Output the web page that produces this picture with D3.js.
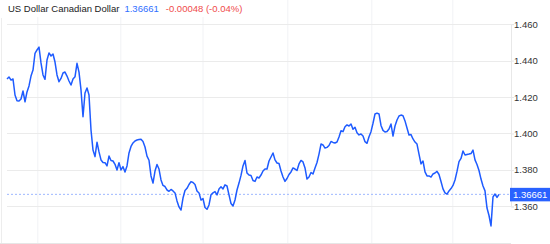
<!DOCTYPE html>
<html>
<head>
<meta charset="utf-8">
<script src="https://cdn.jsdelivr.net/npm/d3@7"></script>
<style>
  body { margin: 0; background: #fff; }
  svg { display: block; font-family: "Liberation Sans", Arial, sans-serif; }
</style>
</head>
<body>
<div id="chart"></div>
<script>
// USD/CAD closes, one per trading day
let closes = [
  1.4299, 1.4310, 1.4293, 1.4299, 1.4211, 1.4180, 1.4178, 1.4189, 1.4233, 1.4174,
  1.4228, 1.4261, 1.4315, 1.4348, 1.4439, 1.4458, 1.4474, 1.4387, 1.4321, 1.4297,
  1.4403, 1.4442, 1.4425, 1.4436, 1.4392, 1.4321, 1.4284, 1.4302, 1.4332, 1.4337,
  1.4315, 1.4288, 1.4266, 1.4299, 1.4311, 1.4385, 1.4337, 1.4239, 1.4092, 1.4222,
  1.4250, 1.4211, 1.4019, 1.3909, 1.3873, 1.3952, 1.3899, 1.3855, 1.3841, 1.3840,
  1.3822, 1.3876, 1.3852, 1.3849, 1.3831, 1.3800, 1.3840, 1.3800, 1.3818, 1.3789,
  1.3822, 1.3893, 1.3929, 1.3948, 1.3959, 1.3964, 1.3967, 1.3968, 1.3956, 1.3926,
  1.3876, 1.3853, 1.3767, 1.3728, 1.3794, 1.3830, 1.3805, 1.3745, 1.3715, 1.3709,
  1.3690, 1.3683, 1.3693, 1.3685, 1.3674, 1.3630, 1.3597, 1.3580, 1.3646, 1.3687,
  1.3699, 1.3720, 1.3736, 1.3731, 1.3720, 1.3685, 1.3674, 1.3635, 1.3643, 1.3594,
  1.3584, 1.3608, 1.3664, 1.3674, 1.3681, 1.3663, 1.3696, 1.3708, 1.3696, 1.3718,
  1.3712, 1.3663, 1.3616, 1.3602, 1.3635, 1.3690, 1.3728, 1.3770, 1.3822, 1.3852,
  1.3783, 1.3772, 1.3770, 1.3742, 1.3737, 1.3761, 1.3756, 1.3772, 1.3794, 1.3805,
  1.3805, 1.3849, 1.3871, 1.3893, 1.3855, 1.3838, 1.3835, 1.3794, 1.3761, 1.3737,
  1.3753, 1.3775, 1.3789, 1.3811, 1.3805, 1.3797, 1.3833, 1.3852, 1.3844, 1.3811,
  1.3750, 1.3761, 1.3786, 1.3778, 1.3811, 1.3841, 1.3887, 1.3942, 1.3937, 1.3920,
  1.3924, 1.3934, 1.3956, 1.3951, 1.3948, 1.3953, 1.3981, 1.4015, 1.4010, 1.4037,
  1.4047, 1.4041, 1.4052, 1.4023, 1.4034, 1.4004, 1.3992, 1.3997, 1.3986, 1.3955,
  1.3946, 1.3982, 1.4010, 1.4056, 1.4107, 1.4112, 1.4107, 1.4044, 1.4017, 1.4008,
  1.4011, 1.4025, 1.4052, 1.3986, 1.4041, 1.4074, 1.4096, 1.4101, 1.4097, 1.4069,
  1.4030, 1.3992, 1.3994, 1.3970, 1.3953, 1.3942, 1.3887, 1.3833, 1.3849, 1.3789,
  1.3767, 1.3767, 1.3761, 1.3778, 1.3783, 1.3792, 1.3775, 1.3737, 1.3696, 1.3674,
  1.3667, 1.3685, 1.3698, 1.3715, 1.3745, 1.3792, 1.3846, 1.3863, 1.3904, 1.3882,
  1.3885, 1.3887, 1.3890, 1.3909, 1.3855, 1.3830, 1.3797, 1.3750, 1.3712, 1.3685,
  1.3591, 1.3550, 1.3493, 1.3652, 1.3668, 1.3649, 1.36661
];

let priceTicks = [1.36, 1.38, 1.40, 1.42, 1.44, 1.46];
// vertical grid lines, in trading-day index
let gridDays = [15.4, 56.9, 98, 140.4, 182.4, 222.9];

let title = "US Dollar Canadian Dollar";
let lastPrice = 1.36661;
let change = "-0.00048 (-0.04%)";

let svgWidth = 550;
let svgHeight = 244;
let plotLeft = 7;
let plotRight = 511;

let svg = d3.select("#chart")
  .append("svg")
  .attr("width", svgWidth)
  .attr("height", svgHeight);

let xScale = d3.scaleLinear()
  .domain([0, closes.length - 1])
  .range([7, 499]);

let yScale = d3.scaleLinear()
  .domain([1.36, 1.46])
  .range([206.4, 24.1]);

// grid
svg.append("g")
  .selectAll("line")
  .data(gridDays)
  .enter()
  .append("line")
  .attr("x1", d => xScale(d))
  .attr("x2", d => xScale(d))
  .attr("y1", 0)
  .attr("y2", svgHeight)
  .attr("stroke", "#f1f2f5")
  .attr("stroke-width", 1);

svg.append("g")
  .selectAll("line")
  .data(priceTicks)
  .enter()
  .append("line")
  .attr("x1", plotLeft)
  .attr("x2", plotRight)
  .attr("y1", d => Math.round(yScale(d)) + 0.5)
  .attr("y2", d => Math.round(yScale(d)) + 0.5)
  .attr("stroke", "#ebebeb")
  .attr("stroke-width", 1.2);

// frame: left edge, bottom, price axis
svg.append("line")
  .attr("x1", 1.5).attr("x2", 1.5)
  .attr("y1", 18).attr("y2", svgHeight)
  .attr("stroke", "#ededed");
svg.append("line")
  .attr("x1", 0).attr("x2", plotRight)
  .attr("y1", 243.5).attr("y2", 243.5)
  .attr("stroke", "#e6e6e6");

let rightAxis = d3.axisRight(yScale)
  .tickValues(priceTicks)
  .tickSize(3)
  .tickFormat(d3.format(".3f"));

let axisG = svg.append("g")
  .attr("transform", `translate(${plotRight}, 0)`)
  .call(rightAxis);
axisG.select(".domain").attr("stroke", "#e8e8e8");
axisG.selectAll(".tick line").attr("stroke", "#e8e8e8");
axisG.selectAll(".tick text")
  .attr("x", 3)
  .attr("fill", "#333")
  .style("font-size", "9.5px")
  .style("font-family", "'Liberation Sans', Arial, sans-serif");

// last price dashed line
svg.append("line")
  .attr("x1", plotLeft)
  .attr("x2", plotRight)
  .attr("y1", yScale(lastPrice))
  .attr("y2", yScale(lastPrice))
  .attr("stroke", "#9db8ff")
  .attr("stroke-width", 1)
  .attr("stroke-dasharray", "2,2");

// price line
let line = d3.line()
  .x((d, i) => xScale(i))
  .y(d => yScale(d));

svg.append("path")
  .datum(closes)
  .attr("d", line)
  .attr("fill", "none")
  .attr("stroke", "#1e5bff")
  .attr("stroke-width", 1.5)
  .attr("stroke-linejoin", "round");

// last price tag
svg.append("rect")
  .attr("x", 510)
  .attr("y", yScale(lastPrice) - 6.5)
  .attr("width", 40)
  .attr("height", 13.5)
  .attr("fill", "#2962ff");
svg.append("text")
  .attr("x", 513)
  .attr("y", yScale(lastPrice) + 3.5)
  .attr("fill", "#fff")
  .style("font-size", "9.5px")
  .text(d3.format(".5f")(lastPrice));

// header
svg.append("rect")
  .attr("x", 0).attr("y", 0)
  .attr("width", 250).attr("height", 17)
  .attr("fill", "#fff");

let header = svg.append("text")
  .attr("x", 8)
  .attr("y", 12)
  .style("font-size", "9.5px");
header.append("tspan").attr("fill", "#222").text(title);
header.append("tspan").attr("dx", 5).attr("fill", "#2f6fff").text(d3.format(".5f")(lastPrice));
header.append("tspan").attr("dx", 7).attr("fill", "#f04b4b").text(change);
</script>
</body>
</html>
